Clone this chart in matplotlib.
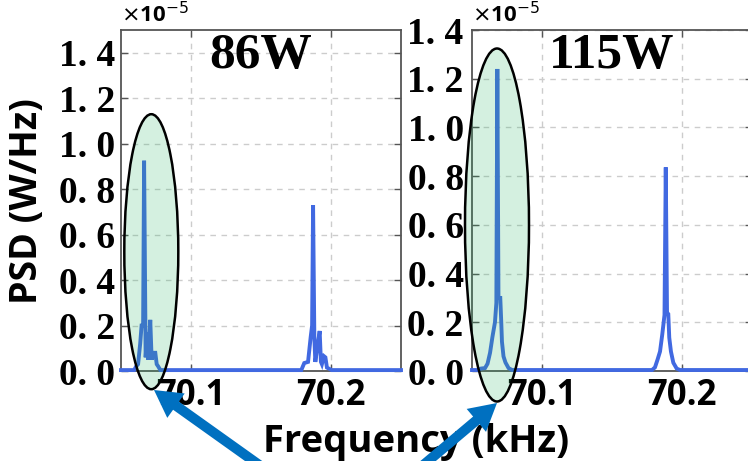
import matplotlib
matplotlib.use("Agg")
import matplotlib.pyplot as plt
from matplotlib.patches import Ellipse, FancyArrow
from matplotlib.ticker import FuncFormatter, FixedLocator
from matplotlib.transforms import IdentityTransform

# Power spectral density in units of 1e-5 W/Hz
freq_86 = [70.050, 70.0594, 70.0608, 70.0622, 70.0637, 70.0647, 70.0658, 70.0665,
           70.0676, 70.0687, 70.0694, 70.0709, 70.0719, 70.0730, 70.0745, 70.0755,
           70.0766, 70.0781,
           70.1788, 70.1809, 70.1836, 70.1855, 70.1865, 70.1872, 70.1881, 70.1888,
           70.1906, 70.1919, 70.1928, 70.1935, 70.1950, 70.1960, 70.1971, 70.2004,
           70.250]
psd_86 = [0.004, 0.004, 0.02, 0.03, 0.12, 0.20, 0.20, 0.925,
          0.06, 0.17, 0.05, 0.225, 0.05, 0.08, 0.08, 0.03,
          0.02, 0.004,
          0.004, 0.035, 0.04, 0.15, 0.20, 0.73, 0.15, 0.04,
          0.12, 0.176, 0.04, 0.03, 0.065, 0.06, 0.015, 0.004,
          0.004]

freq_115 = [70.050, 70.0543, 70.0564, 70.0593, 70.0611, 70.0629, 70.0646, 70.0664,
            70.0674, 70.0681, 70.0689, 70.0702, 70.0709, 70.0714, 70.0725, 70.0739,
            70.0761, 70.0786,
            70.1786, 70.1807, 70.1826, 70.1843, 70.1859, 70.1875, 70.1884, 70.1893,
            70.1902, 70.1909, 70.1921, 70.1938, 70.1962, 70.1986,
            70.250]
psd_115 = [0.004, 0.004, 0.01, 0.012, 0.03, 0.075, 0.14, 0.20,
           0.28, 1.24, 0.30, 0.30, 0.20, 0.12, 0.06, 0.035,
           0.012, 0.004,
           0.004, 0.015, 0.048, 0.08, 0.15, 0.23, 0.836, 0.24,
           0.234, 0.137, 0.08, 0.034, 0.01, 0.004,
           0.004]

panel_titles = ["86W", "115W"]
x_ticks = [70.1, 70.2]
y_ticks = [0.0, 0.2, 0.4, 0.6, 0.8, 1.0, 1.2, 1.4]
y_tops = [1.5, 1.4]

W, H = 748, 461
fig = plt.figure(figsize=(W / 100, H / 100), dpi=100)

SERIF = "Liberation Serif"
SANS = "Open Sans"
LINE_C = "#4169E1"
SPINE_C = "#555555"


def px(x0, y0, w, h):
    """Axes rectangle from pixel box (top-left origin)."""
    return [x0 / W, 1 - (y0 + h) / H, w / W, h / H]


ax1 = fig.add_axes(px(121, 30, 280, 341))
ax2 = fig.add_axes(px(472, 30, 280, 341))

series = [(freq_86, psd_86), (freq_115, psd_115)]
for ax, (f, p), title, ytop in zip([ax1, ax2], series, panel_titles, y_tops):
    ax.plot(f, p, color=LINE_C, lw=2.8, zorder=3, clip_on=False,
            solid_joinstyle="miter")
    ax.set_xlim(70.05, 70.25)
    ax.set_ylim(0, ytop)
    ax.xaxis.set_major_locator(FixedLocator(x_ticks))
    ax.yaxis.set_major_locator(FixedLocator(y_ticks))
    ax.xaxis.set_major_formatter(FuncFormatter(lambda v, _: f"{v:.1f}"))
    ax.yaxis.set_major_formatter(FuncFormatter(lambda v, _: f"{v:.1f}".replace(".", ". ")))
    ax.grid(True, color="#cccccc", linestyle=(0, (4, 4)), lw=1.0)
    ax.set_axisbelow(True)
    for s in ax.spines.values():
        s.set_color(SPINE_C)
        s.set_linewidth(1.3)
    ax.tick_params(direction="in", length=5, width=1, color=SPINE_C,
                   top=True, right=True, pad=5)
    for lab in ax.get_yticklabels():
        lab.set_fontfamily(SERIF)
        lab.set_fontweight("bold")
        lab.set_fontsize(27)
    for lab in ax.get_xticklabels():
        lab.set_fontfamily(SANS)
        lab.set_fontweight("bold")
        lab.set_fontsize(25)
    ax.text(0.5, (371 - 68) / 341, title, transform=ax.transAxes, ha="center",
            va="baseline", fontfamily=SERIF, fontweight="bold", fontsize=37)
    ax.text(0.0, 1.008, r"$\times$10$^{-5}$", transform=ax.transAxes, ha="left",
            va="bottom", fontfamily=SANS, fontweight="bold", fontsize=16)

ax1.tick_params(axis="y", pad=4)
ax2.tick_params(axis="y", pad=6)

fig.text(27.5 / W, 1 - 201 / H, "PSD (W/Hz)", rotation=90, ha="center", va="center",
         fontfamily=SANS, fontweight="bold", fontsize=27)
fig.text(416.5 / W, 1 - 452 / H, "Frequency (kHz)", ha="center", va="baseline",
         fontfamily=SANS, fontweight="bold", fontsize=27.5)

# Highlight the first harmonic cluster in each panel
for cx, cy, ew, eh in [(151.3, 251.7, 54, 275), (497, 225, 64, 353)]:
    fig.add_artist(Ellipse((cx / W, 1 - cy / H), ew / W, eh / H,
                           transform=fig.transFigure,
                           facecolor=(40 / 255, 180 / 255, 100 / 255, 0.2),
                           edgecolor="black", lw=1.8, zorder=10))

# Pointer arrows (display pixels, origin bottom-left)
for (x0, y0), (x1, y1) in [((262, 467), (154, 390)), ((421, 467), (497, 403))]:
    fig.add_artist(FancyArrow(x0, H - y0, x1 - x0, -(y1 - y0), width=10,
                              head_width=30, head_length=27,
                              length_includes_head=True, color="#0070C0",
                              lw=0, transform=IdentityTransform(), zorder=12))

fig.savefig("out.png", dpi=100)
